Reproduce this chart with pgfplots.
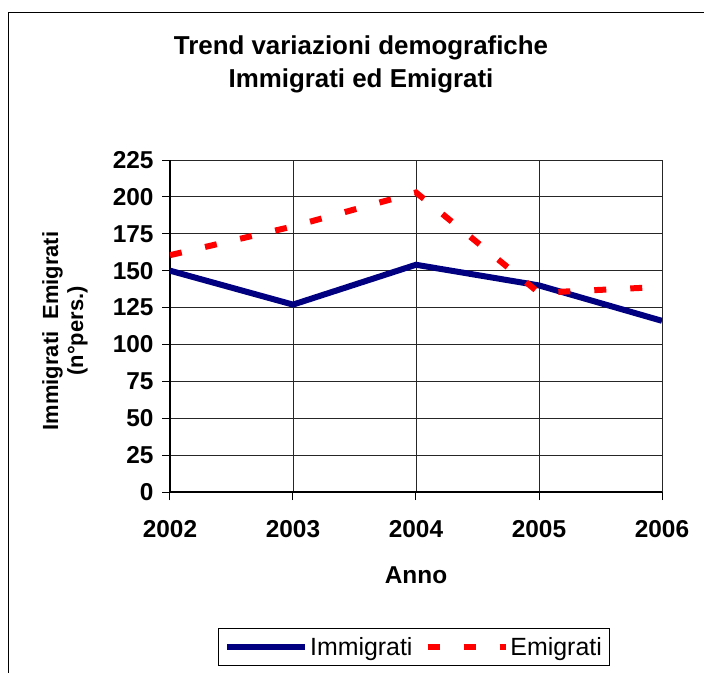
\documentclass[border=0pt]{standalone}
\usepackage{pgfplots}
\pgfplotsset{compat=1.18}
\usepackage{fontspec}
\setmainfont{Liberation Sans}
\definecolor{navyline}{RGB}{0,0,128}
\definecolor{redline}{RGB}{255,0,0}
\begin{document}
\begin{tikzpicture}
\useasboundingbox (-170bp,-181bp) rectangle (534bp,492bp);
\clip (-170bp,-181bp) rectangle (534bp,492bp);
% outer chart frame (cropped on right and bottom)
\draw[line width=1.3bp,black] (-161.5bp,-200bp) -- (-161.5bp,479.5bp) -- (560bp,479.5bp);
\begin{axis}[
  at={(0bp,0bp)}, anchor=south west,
  scale only axis, width=492bp, height=332bp,
  xmin=2002, xmax=2006, ymin=0, ymax=225,
  xtick={2002,2003,2004,2005,2006},
  ytick={0,25,...,225},
  axis x line=bottom, axis y line=left,
  axis line style={-, line width=2bp, black},
  tick align=outside, major tick length=8bp,
  tick style={black, line width=1bp},
  grid=major,
  major grid style={black!85, line width=0.8bp},
  ticklabel style={font=\bfseries\fontsize{24.5}{28}\selectfont},
  xticklabel style={yshift=-17bp},
  yticklabel style={xshift=-5bp},
  /pgf/number format/assume math mode=true,
  /pgf/number format/1000 sep={},
  xlabel={Anno},
  xlabel style={font=\bfseries\fontsize{24.5}{28}\selectfont, at={(axis description cs:0.5,-0.25)}, anchor=center},
  ylabel={Immigrati\ \ Emigrati\\(n°pers.)},
  ylabel style={font=\bfseries\fontsize{22}{25}\selectfont, align=center, at={(axis description cs:-0.2134,0.485)}, anchor=center},
  legend columns=2,
  legend style={at={(axis description cs:0.4959,-0.4669)}, anchor=center, draw=black, line width=1bp,
    font=\fontsize{25}{28}\selectfont, inner xsep=6bp, inner ysep=7bp,
    /tikz/every even column/.append style={column sep=10bp}},
  legend image code/.code={\draw[#1] (0bp,0bp) -- (78bp,0bp);},
]
\addplot[navyline, line width=6bp, line cap=butt] coordinates {
  (2002,150) (2003,127) (2004,154) (2005,140) (2006,116)};
\addlegendentry{Immigrati}
\addplot[redline, line width=6bp, line cap=butt, dash pattern=on 12bp off 24bp] coordinates {
  (2002,160.5) (2003,180) (2004,203) (2005,135) (2006,139)};
\addlegendentry{Emigrati}
\end{axis}
\node[align=center, font=\bfseries\fontsize{26}{33}\selectfont] at (191bp,427.5bp)
  {Trend variazioni demografiche\\Immigrati ed Emigrati};
\end{tikzpicture}
\end{document}
